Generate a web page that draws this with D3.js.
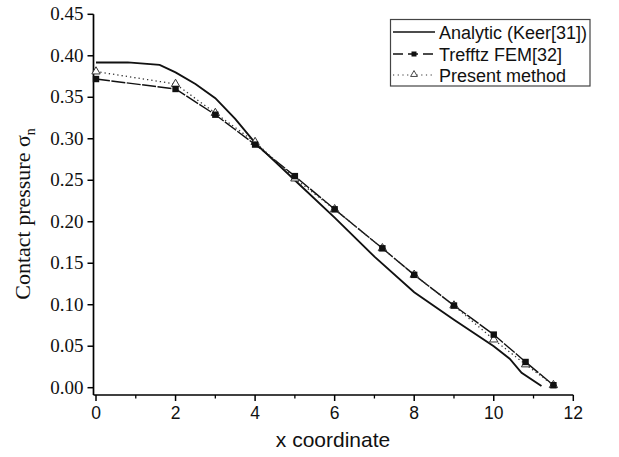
<!DOCTYPE html>
<html><head><meta charset="utf-8">
<script src="https://cdn.jsdelivr.net/npm/d3@7/dist/d3.min.js"></script>
<style>body{margin:0;background:#fff}svg{display:block}</style>
</head><body>
<svg id="c" width="619" height="457"></svg>
<script>
const analyticX = [0, 0.8, 1.6, 2.0, 2.5, 3.0, 3.5, 4.0, 5.0, 6.0, 7.0, 8.0, 9.0, 10.0, 10.4, 10.7, 11.2];
const analyticY = [0.392, 0.392, 0.389, 0.380, 0.366, 0.349, 0.324, 0.295, 0.250, 0.205, 0.158, 0.115, 0.082, 0.050, 0.035, 0.018, 0.002];
const femX = [0, 2, 3, 4, 5, 6, 7.2, 8, 9, 10, 10.8, 11.5];
const femY = [0.372, 0.360, 0.329, 0.293, 0.255, 0.215, 0.168, 0.136, 0.099, 0.064, 0.031, 0.003];
const presX = [0, 2, 3, 4, 5, 6, 7.2, 8, 9, 10, 10.8, 11.5];
const presY = [0.381, 0.366, 0.331, 0.296, 0.252, 0.215, 0.168, 0.136, 0.099, 0.058, 0.028, 0.003];
const xTicks = [0, 2, 4, 6, 8, 10, 12];
const xMinor = [1, 3, 5, 7, 9, 11];
const yTicks = [0, 0.05, 0.10, 0.15, 0.20, 0.25, 0.30, 0.35, 0.40, 0.45];
const legendLabels = ["Analytic (Keer[31])", "Trefftz FEM[32]", "Present method"];

const svg = d3.select("#c");
const x = d3.scaleLinear().domain([0, 12]).range([96, 573.3]);
const y = d3.scaleLinear().domain([0, 0.45]).range([387.7, 14.3]);
const axisY0 = 395, axisX0 = 93.5;

// axes lines
svg.append("line").attr("x1", axisX0).attr("x2", x(12)).attr("y1", axisY0).attr("y2", axisY0)
  .attr("stroke", "#000").attr("stroke-width", 1.7);
svg.append("line").attr("x1", axisX0).attr("x2", axisX0).attr("y1", axisY0).attr("y2", y(0.45))
  .attr("stroke", "#000").attr("stroke-width", 1.7);

// x ticks
const gx = svg.append("g");
gx.selectAll("line.maj").data(xTicks).join("line")
  .attr("x1", d => x(d)).attr("x2", d => x(d)).attr("y1", axisY0).attr("y2", axisY0 + 6)
  .attr("stroke", "#000").attr("stroke-width", 1.5);
gx.selectAll("line.min").data(xMinor).join("line").attr("class","min")
  .attr("x1", d => x(d)).attr("x2", d => x(d)).attr("y1", axisY0).attr("y2", axisY0 + 3.5)
  .attr("stroke", "#000").attr("stroke-width", 1.3);
gx.selectAll("text").data(xTicks).join("text")
  .attr("x", d => x(d)).attr("y", axisY0 + 24).attr("text-anchor", "middle")
  .attr("font-family", "Liberation Sans, Arial, sans-serif").attr("font-size", 17.5)
  .attr("fill", "#111")
  .text(d => d3.format("d")(d));

// y ticks
const gy = svg.append("g");
gy.selectAll("line").data(yTicks).join("line")
  .attr("x1", axisX0 - 6).attr("x2", axisX0).attr("y1", d => y(d)).attr("y2", d => y(d))
  .attr("stroke", "#000").attr("stroke-width", 1.5);
gy.selectAll("text").data(yTicks).join("text")
  .attr("x", axisX0 - 10).attr("y", d => y(d) + 6).attr("text-anchor", "end")
  .attr("font-family", "Liberation Serif, Times New Roman, serif").attr("font-size", 19)
  .attr("fill", "#111")
  .text(d => d3.format(".2f")(d));

// axis titles
svg.append("text").attr("x", 333).attr("y", 447).attr("text-anchor", "middle")
  .attr("font-family", "Liberation Sans, Arial, sans-serif").attr("font-size", 21)
  .attr("fill", "#111")
  .text("x coordinate");
const yt = svg.append("text").attr("transform", "translate(30,214) rotate(-90)")
  .attr("text-anchor", "middle").attr("fill", "#111")
  .attr("font-family", "Liberation Serif, Times New Roman, serif").attr("font-size", 22);
yt.append("tspan").text("Contact pressure  σ");
yt.append("tspan").attr("font-size", 14).attr("dy", 5).text("n");

const line = d3.line().x(d => x(d[0])).y(d => y(d[1]));
const analytic = analyticX.map((v, i) => [v, analyticY[i]]);
const fem = femX.map((v, i) => [v, femY[i]]);
const pres = presX.map((v, i) => [v, presY[i]]);

svg.append("path").datum(analytic).attr("d", line).attr("fill", "none")
  .attr("stroke", "#111").attr("stroke-width", 1.9);
svg.append("path").datum(fem).attr("d", line).attr("fill", "none")
  .attr("stroke", "#111").attr("stroke-width", 1.4).attr("stroke-dasharray", "14,1.5");
svg.append("path").datum(pres).attr("d", line).attr("fill", "none")
  .attr("stroke", "#333").attr("stroke-width", 1.3).attr("stroke-dasharray", "1.3,3");

const tri = d3.symbol().type(d3.symbolTriangle).size(30);
svg.append("g").selectAll("path").data(pres).join("path")
  .attr("d", tri).attr("transform", d => `translate(${x(d[0])},${y(d[1])})`)
  .attr("fill", "#fff").attr("stroke", "#333").attr("stroke-width", 1);
svg.append("g").selectAll("rect").data(fem).join("rect")
  .attr("x", d => x(d[0]) - 3.2).attr("y", d => y(d[1]) - 3.2).attr("width", 6.4).attr("height", 6.4)
  .attr("fill", "#111");

// legend
const lg = svg.append("g");
lg.append("rect").attr("x", 390.5).attr("y", 19.5).attr("width", 199.5).attr("height", 66.5)
  .attr("fill", "#fff").attr("stroke", "#444").attr("stroke-width", 1.2);
const rows = [32, 54, 75];
lg.selectAll("text").data(legendLabels).join("text")
  .attr("x", 439).attr("y", (d, i) => rows[i] + 6.5)
  .attr("font-family", "Liberation Sans, Arial, sans-serif").attr("font-size", 18)
  .attr("fill", "#111")
  .text(d => d);
lg.append("line").attr("x1", 393).attr("x2", 435).attr("y1", rows[0]).attr("y2", rows[0])
  .attr("stroke", "#111").attr("stroke-width", 1.6);
lg.append("line").attr("x1", 393).attr("x2", 435).attr("y1", rows[1]).attr("y2", rows[1])
  .attr("stroke", "#111").attr("stroke-width", 1.4).attr("stroke-dasharray", "10,5");
lg.append("rect").attr("x", 411.5).attr("y", rows[1] - 2.5).attr("width", 5).attr("height", 5).attr("fill", "#111");
lg.append("line").attr("x1", 393).attr("x2", 435).attr("y1", rows[2]).attr("y2", rows[2])
  .attr("stroke", "#333").attr("stroke-width", 1.1).attr("stroke-dasharray", "1.2,3.5");
lg.append("path").attr("d", d3.symbol().type(d3.symbolTriangle).size(20))
  .attr("transform", `translate(414,${rows[2] - 0.5})`).attr("fill", "#fff").attr("stroke", "#333").attr("stroke-width", 0.9);
</script>
</body></html>
